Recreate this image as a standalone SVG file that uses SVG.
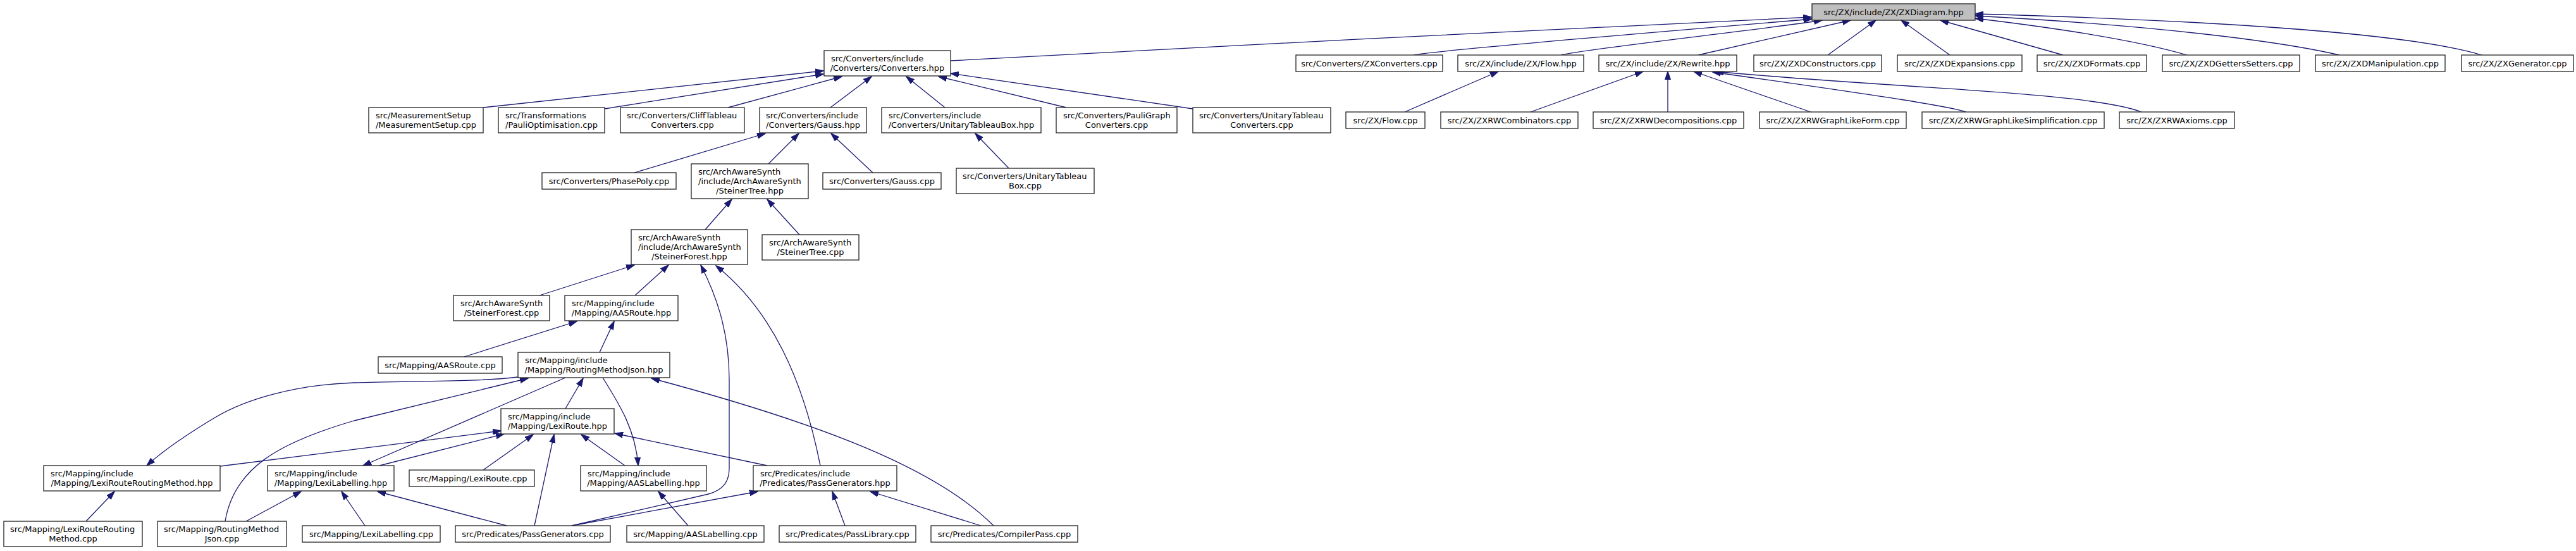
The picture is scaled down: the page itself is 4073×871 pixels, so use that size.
<svg xmlns="http://www.w3.org/2000/svg" width="4073" height="871" viewBox="0 0 4073 871">
<style>
.n rect{fill:#fff;stroke:#222;stroke-width:1.3}
.root rect{fill:#bfbfbf}
text{font-family:"DejaVu Sans","Liberation Sans",sans-serif;font-size:13px;fill:#000}
.c{text-anchor:middle}
.edges path{fill:none;stroke:#191970;stroke-width:1.3;marker-end:url(#ah)}
</style>
<defs>
<marker id="ah" markerUnits="userSpaceOnUse" markerWidth="14" markerHeight="10" viewBox="0 0 14 10" refX="13" refY="5" orient="auto"><path d="M0,0.5 L13.5,5 L0,9.5 z" fill="#191970" stroke="#191970" stroke-width="1"/></marker>
</defs>
<rect width="4073" height="871" fill="#fff"/>
<g id="edges" class="edges">
<path d="M1503,96 C1900,72 2500,46 2864,27"/>
<path d="M2235,87 C2262,80 2700,44 2865,30"/>
<path d="M2468,87 C2500,78 2800,45 2881,32"/>
<path d="M2685,87 L2926,32"/>
<path d="M2890,87 L2966,32"/>
<path d="M3083,87 L3006,32"/>
<path d="M3262,87 L3068,32"/>
<path d="M3458,87 C3400,70 3300,50 3123,29"/>
<path d="M3699,87 C3600,64 3400,40 3123,25"/>
<path d="M3924,87 C3860,68 3700,38 3123,22"/>
<path d="M764,170 L1302,112"/>
<path d="M956,172 L1302,117"/>
<path d="M1151,170 L1331,121"/>
<path d="M1313,170 L1378,121"/>
<path d="M1494,170 L1433,121"/>
<path d="M1686,170 L1484,121"/>
<path d="M1886,172 L1503,116"/>
<path d="M1003,273 L1210,211"/>
<path d="M1215,259 L1263,211"/>
<path d="M1380,273 L1314,211"/>
<path d="M1595,266 L1542,211"/>
<path d="M2221,177 L2369,113"/>
<path d="M2420,177 L2598,113"/>
<path d="M2637,177 L2637,113"/>
<path d="M2863,177 L2678,113"/>
<path d="M3109,177 C3080,168 3000,155 2708,114"/>
<path d="M3386,177 C3300,145 3000,140 2712,113"/>
<path d="M1115,363 L1157,315"/>
<path d="M1264,371 L1213,315"/>
<path d="M853,467 L1003,419"/>
<path d="M1004,467 L1057,419"/>
<path d="M904,831 L1120,781 C1145,774 1153,760 1153,740 L1153,600 C1153,520 1130,462 1108,419"/>
<path d="M1297,736 C1270,600 1220,490 1132,420"/>
<path d="M734,564 L912,508"/>
<path d="M948,557 L971,508"/>
<path d="M819,596 C760,604 640,602 560,605 C470,608 390,630 340,660 C290,690 255,715 232,736"/>
<path d="M356,824 C370,740 440,700 560,665 L835,598"/>
<path d="M894,597 L574,736"/>
<path d="M894,646 L922,598"/>
<path d="M953,597 C980,640 1005,680 1009,736"/>
<path d="M1571,831 C1480,740 1300,670 1030,598"/>
<path d="M348,737 L792,681"/>
<path d="M600,736 L797,686"/>
<path d="M764,743 L843,687"/>
<path d="M845,831 L876,687"/>
<path d="M988,736 L919,687"/>
<path d="M1213,736 L972,685"/>
<path d="M136,824 L181,777"/>
<path d="M389,824 L476,777"/>
<path d="M577,831 L540,777"/>
<path d="M801,831 L597,777"/>
<path d="M1088,831 L1041,777"/>
<path d="M904,831 L1198,777"/>
<path d="M1336,831 L1316,777"/>
<path d="M1551,831 L1376,777"/>
</g>
<g id="root" class="n root"><rect x="2865" y="6" width="258" height="26"/><text class="c" x="2994" y="23.5">src/ZX/include/ZX/ZXDiagram.hpp</text></g>
<g id="conv_hpp" class="n"><rect x="1303" y="80" width="200" height="40"/><text x="1314" y="97">src/Converters/include</text><text class="c" x="1403" y="112">/Converters/Converters.hpp</text></g>
<g id="zxconv" class="n"><rect x="2049" y="87" width="232" height="26"/><text class="c" x="2165" y="104.5">src/Converters/ZXConverters.cpp</text></g>
<g id="flow_hpp" class="n"><rect x="2305" y="87" width="199" height="26"/><text class="c" x="2404.5" y="104.5">src/ZX/include/ZX/Flow.hpp</text></g>
<g id="rewrite_hpp" class="n"><rect x="2528" y="87" width="218" height="26"/><text class="c" x="2637" y="104.5">src/ZX/include/ZX/Rewrite.hpp</text></g>
<g id="zxdcons" class="n"><rect x="2773" y="87" width="202" height="26"/><text class="c" x="2874" y="104.5">src/ZX/ZXDConstructors.cpp</text></g>
<g id="zxdexp" class="n"><rect x="3000" y="87" width="197" height="26"/><text class="c" x="3098.5" y="104.5">src/ZX/ZXDExpansions.cpp</text></g>
<g id="zxdfmt" class="n"><rect x="3221" y="87" width="173" height="26"/><text class="c" x="3307.5" y="104.5">src/ZX/ZXDFormats.cpp</text></g>
<g id="zxdgs" class="n"><rect x="3419" y="87" width="217" height="26"/><text class="c" x="3527.5" y="104.5">src/ZX/ZXDGettersSetters.cpp</text></g>
<g id="zxdman" class="n"><rect x="3661" y="87" width="205" height="26"/><text class="c" x="3763.5" y="104.5">src/ZX/ZXDManipulation.cpp</text></g>
<g id="zxgen" class="n"><rect x="3892" y="87" width="177" height="26"/><text class="c" x="3980.5" y="104.5">src/ZX/ZXGenerator.cpp</text></g>
<g id="meas" class="n"><rect x="583" y="170" width="181" height="40"/><text x="594" y="187">src/MeasurementSetup</text><text class="c" x="673.5" y="202">/MeasurementSetup.cpp</text></g>
<g id="trans" class="n"><rect x="788" y="170" width="168" height="40"/><text x="799" y="187">src/Transformations</text><text class="c" x="872" y="202">/PauliOptimisation.cpp</text></g>
<g id="cliff" class="n"><rect x="981" y="170" width="196" height="40"/><text x="991" y="187">src/Converters/CliffTableau</text><text class="c" x="1079" y="202">Converters.cpp</text></g>
<g id="gauss_hpp" class="n"><rect x="1201" y="170" width="169" height="40"/><text x="1211" y="187">src/Converters/include</text><text class="c" x="1285.5" y="202">/Converters/Gauss.hpp</text></g>
<g id="utb_hpp" class="n"><rect x="1394" y="170" width="252" height="40"/><text x="1405" y="187">src/Converters/include</text><text class="c" x="1520" y="202">/Converters/UnitaryTableauBox.hpp</text></g>
<g id="pauli" class="n"><rect x="1670" y="170" width="191" height="40"/><text x="1681" y="187">src/Converters/PauliGraph</text><text class="c" x="1765.5" y="202">Converters.cpp</text></g>
<g id="utconv" class="n"><rect x="1886" y="170" width="218" height="40"/><text x="1896" y="187">src/Converters/UnitaryTableau</text><text class="c" x="1995" y="202">Converters.cpp</text></g>
<g id="flow_cpp" class="n"><rect x="2128" y="177" width="125" height="26"/><text class="c" x="2190.5" y="194.5">src/ZX/Flow.cpp</text></g>
<g id="rwcomb" class="n"><rect x="2278" y="177" width="217" height="26"/><text class="c" x="2386.5" y="194.5">src/ZX/ZXRWCombinators.cpp</text></g>
<g id="rwdec" class="n"><rect x="2519" y="177" width="238" height="26"/><text class="c" x="2638" y="194.5">src/ZX/ZXRWDecompositions.cpp</text></g>
<g id="rwglf" class="n"><rect x="2782" y="177" width="232" height="26"/><text class="c" x="2898" y="194.5">src/ZX/ZXRWGraphLikeForm.cpp</text></g>
<g id="rwgls" class="n"><rect x="3039" y="177" width="288" height="26"/><text class="c" x="3183" y="194.5">src/ZX/ZXRWGraphLikeSimplification.cpp</text></g>
<g id="rwax" class="n"><rect x="3351" y="177" width="182" height="26"/><text class="c" x="3442" y="194.5">src/ZX/ZXRWAxioms.cpp</text></g>
<g id="phasepoly" class="n"><rect x="857" y="273" width="212" height="26"/><text class="c" x="963" y="290.5">src/Converters/PhasePoly.cpp</text></g>
<g id="steinertree_hpp" class="n"><rect x="1093" y="259" width="185" height="55"/><text x="1104" y="276">src/ArchAwareSynth</text><text x="1104" y="291">/include/ArchAwareSynth</text><text class="c" x="1185.5" y="306">/SteinerTree.hpp</text></g>
<g id="gauss_cpp" class="n"><rect x="1301" y="273" width="187" height="26"/><text class="c" x="1394.5" y="290.5">src/Converters/Gauss.cpp</text></g>
<g id="utb_cpp" class="n"><rect x="1512" y="266" width="218" height="40"/><text x="1522" y="283">src/Converters/UnitaryTableau</text><text class="c" x="1621" y="298">Box.cpp</text></g>
<g id="steinerforest_hpp" class="n"><rect x="998" y="363" width="184" height="55"/><text x="1009" y="380">src/ArchAwareSynth</text><text x="1009" y="395">/include/ArchAwareSynth</text><text class="c" x="1090" y="410">/SteinerForest.hpp</text></g>
<g id="steinertree_cpp" class="n"><rect x="1205" y="371" width="153" height="40"/><text x="1216" y="388">src/ArchAwareSynth</text><text class="c" x="1281.5" y="403">/SteinerTree.cpp</text></g>
<g id="steinerforest_cpp" class="n"><rect x="717" y="467" width="152" height="40"/><text x="728" y="484">src/ArchAwareSynth</text><text class="c" x="793" y="499">/SteinerForest.cpp</text></g>
<g id="aasroute_hpp" class="n"><rect x="893" y="467" width="179" height="40"/><text x="904" y="484">src/Mapping/include</text><text class="c" x="982.5" y="499">/Mapping/AASRoute.hpp</text></g>
<g id="aasroute_cpp" class="n"><rect x="598" y="564" width="196" height="26"/><text class="c" x="696" y="581.5">src/Mapping/AASRoute.cpp</text></g>
<g id="rmj_hpp" class="n"><rect x="819" y="557" width="240" height="40"/><text x="830" y="574">src/Mapping/include</text><text class="c" x="939" y="589">/Mapping/RoutingMethodJson.hpp</text></g>
<g id="lexiroute_hpp" class="n"><rect x="792" y="646" width="179" height="40"/><text x="803" y="663">src/Mapping/include</text><text class="c" x="881.5" y="678">/Mapping/LexiRoute.hpp</text></g>
<g id="lrrm_hpp" class="n"><rect x="69" y="736" width="279" height="40"/><text x="80" y="753">src/Mapping/include</text><text class="c" x="208.5" y="768">/Mapping/LexiRouteRoutingMethod.hpp</text></g>
<g id="ll_hpp" class="n"><rect x="423" y="736" width="200" height="40"/><text x="434" y="753">src/Mapping/include</text><text class="c" x="523" y="768">/Mapping/LexiLabelling.hpp</text></g>
<g id="lexiroute_cpp" class="n"><rect x="647" y="743" width="198" height="26"/><text class="c" x="746" y="760.5">src/Mapping/LexiRoute.cpp</text></g>
<g id="aasl_hpp" class="n"><rect x="918" y="736" width="199" height="40"/><text x="929" y="753">src/Mapping/include</text><text class="c" x="1017.5" y="768">/Mapping/AASLabelling.hpp</text></g>
<g id="pg_hpp" class="n"><rect x="1191" y="736" width="227" height="40"/><text x="1202" y="753">src/Predicates/include</text><text class="c" x="1304.5" y="768">/Predicates/PassGenerators.hpp</text></g>
<g id="lrrm_cpp" class="n"><rect x="6" y="824" width="219" height="40"/><text x="16" y="841">src/Mapping/LexiRouteRouting</text><text class="c" x="115.5" y="856">Method.cpp</text></g>
<g id="rmj_cpp" class="n"><rect x="249" y="824" width="204" height="40"/><text x="259" y="841">src/Mapping/RoutingMethod</text><text class="c" x="351" y="856">Json.cpp</text></g>
<g id="ll_cpp" class="n"><rect x="478" y="831" width="218" height="26"/><text class="c" x="587" y="848.5">src/Mapping/LexiLabelling.cpp</text></g>
<g id="pg_cpp" class="n"><rect x="720" y="831" width="245" height="26"/><text class="c" x="842.5" y="848.5">src/Predicates/PassGenerators.cpp</text></g>
<g id="aasl_cpp" class="n"><rect x="991" y="831" width="217" height="26"/><text class="c" x="1099.5" y="848.5">src/Mapping/AASLabelling.cpp</text></g>
<g id="passlib" class="n"><rect x="1232" y="831" width="216" height="26"/><text class="c" x="1340" y="848.5">src/Predicates/PassLibrary.cpp</text></g>
<g id="compilerpass" class="n"><rect x="1472" y="831" width="232" height="26"/><text class="c" x="1588" y="848.5">src/Predicates/CompilerPass.cpp</text></g>
</svg>
